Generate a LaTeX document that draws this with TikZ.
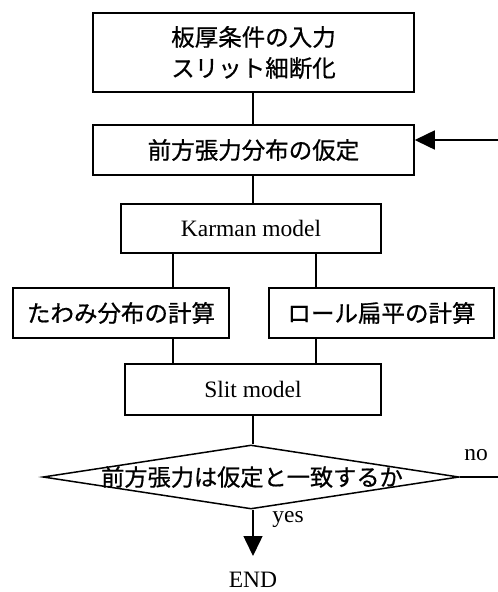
\documentclass[tikz,border=0pt]{standalone}
\usepackage{fontspec}
\setmainfont{Liberation Serif}
\newfontfamily\jp{Noto Sans CJK JP}[FakeBold=0.7]
\usetikzlibrary{shapes.geometric,arrows.meta}
\begin{document}
\begin{tikzpicture}[x=1pt,y=-1pt,
  line width=1.5pt,
  box/.style={draw,rectangle,inner sep=0pt,align=center,font=\jp\fontsize{23.5}{31}\selectfont},
  mbox/.style={draw,rectangle,inner sep=0pt,font=\fontsize{23.5}{28}\selectfont},
  lbl/.style={inner sep=0pt,font=\fontsize{23.5}{28}\selectfont},
  tip/.style={-{Triangle[length=20pt,width=19pt]}}]
\useasboundingbox (0,0) rectangle (498,592);
\node[box,minimum width=321pt,minimum height=79pt] (b1) at (253.5,52.5) {板厚条件の入力\\スリット細断化};
\node[box,minimum width=321pt,minimum height=50pt] (b2) at (253.5,150) {前方張力分布の仮定};
\node[mbox,minimum width=260pt,minimum height=49pt] (km) at (251,228.5) {Karman model};
\node[box,minimum width=216pt,minimum height=50pt] (lb) at (121,313) {たわみ分布の計算};
\node[box,minimum width=225pt,minimum height=50pt] (rb) at (381.5,313) {ロール扁平の計算};
\node[mbox,minimum width=256pt,minimum height=51pt] (sm) at (253,389.5) {Slit model};
\node[draw,diamond,inner sep=0pt,minimum width=416pt,minimum height=64pt] (dia) at (251,477) {};
\node[inner sep=0pt,font=\jp\fontsize{23.2}{28}\selectfont] (dtext) at (252,477) {前方張力は仮定と一致するか};
\coordinate (xc) at (253,0);
\coordinate (xl) at (173,0);
\coordinate (xr) at (316,0);
\coordinate (fb) at (498,140);
\coordinate (nend) at (498,477);
\coordinate (tipend) at (253,556);
\node[lbl] (no) at (476,455) {no};
\node[lbl] (yes) at (288,519) {yes};
\node[lbl] (endn) at (253,580) {END};
\draw (b1.south -| xc) -- (b2.north -| xc);
\draw (b2.south -| xc) -- (km.north -| xc);
\draw (km.south -| xl) -- (lb.north -| xl);
\draw (km.south -| xr) -- (rb.north -| xr);
\draw (lb.south -| xl) -- (sm.north -| xl);
\draw (rb.south -| xr) -- (sm.north -| xr);
\draw (sm.south -| xc) -- (dia.north -| xc);
\draw (dia.east) -- (nend);
\draw[tip] (fb) -- (fb -| b2.east);
\draw[tip] (dia.south -| xc) -- (tipend);
\end{tikzpicture}
\end{document}
